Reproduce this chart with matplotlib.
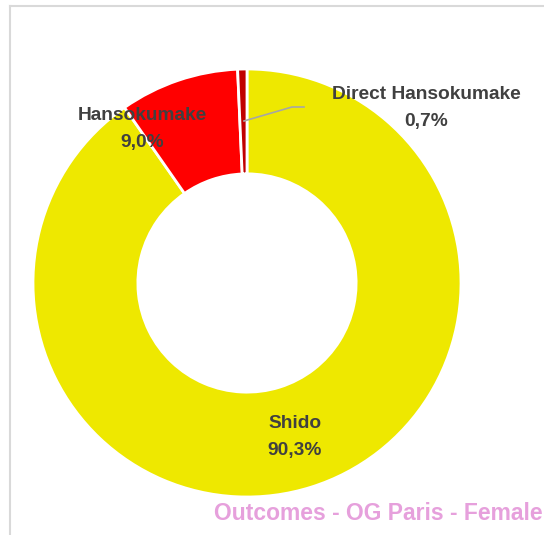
import matplotlib
matplotlib.use("Agg")
import matplotlib.pyplot as plt
from matplotlib.lines import Line2D

# data
labels = ["Shido", "Hansokumake", "Direct Hansokumake"]
values = [90.3, 9.0, 0.7]
pct_text = ["90,3%", "9,0%", "0,7%"]
colors = ["#EEE800", "#FF0000", "#C00000"]
title = "Outcomes - OG Paris - Female"

W, H = 544, 535
fig = plt.figure(figsize=(W / 100, H / 100), dpi=100)

# donut centre and radius in pixels
cx, cy, r = 247, 283, 214
ax = fig.add_axes([(cx - r) / W, (H - cy - r) / H, 2 * r / W, 2 * r / H])
ax.pie(values, colors=colors, startangle=90, counterclock=False, radius=1,
       wedgeprops=dict(width=0.49, edgecolor="white", linewidth=2))
ax.set_xlim(-1, 1)
ax.set_ylim(-1, 1)
ax.set_aspect("equal")
ax.axis("off")

def d(px, py):
    return (px - cx) / r, (cy - py) / r

txt_col = "#404040"
label_pos = [(295, 437), (142, 129), (426, 108)]
for name, p, pos in zip(labels, pct_text, label_pos):
    x, y = d(*pos)
    ax.text(x, y, name + "\n" + p, ha="center", va="center", color=txt_col,
            fontsize=13.8, fontweight="bold", family="Liberation Sans",
            linespacing=1.7, clip_on=False)

# leader line for the small slice
pts = [d(244, 121), d(292, 107), d(304, 107)]
ax.plot([p[0] for p in pts], [p[1] for p in pts], color="#A6A6A6", lw=1.2,
        clip_on=False)

# chart border (left and top only visible)
fig.add_artist(Line2D([9.5 / W, 9.5 / W], [0, 1 - 5.5 / H],
                      transform=fig.transFigure, color="#D9D9D9", lw=1.5))
fig.add_artist(Line2D([9.5 / W, 1], [1 - 5.5 / H, 1 - 5.5 / H],
                      transform=fig.transFigure, color="#D9D9D9", lw=1.5))

fig.text(543 / W, 1 - 513 / H, title, ha="right", va="center",
         color="#E6A0DC", fontsize=16.5, fontweight="bold",
         family="Liberation Sans")

fig.savefig("out.png", dpi=100)
